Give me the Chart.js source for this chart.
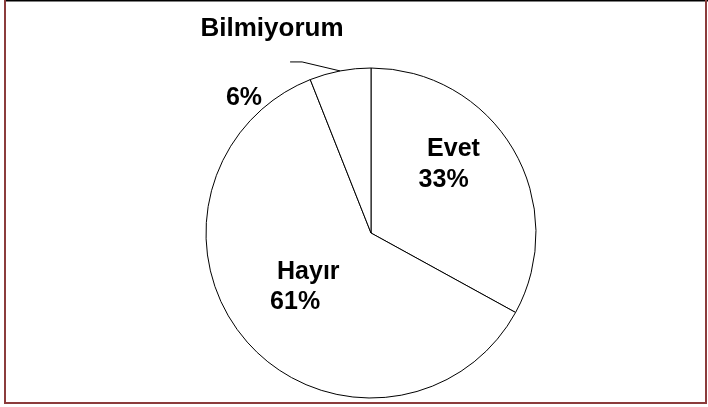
<!DOCTYPE html>
<html>
<head>
<meta charset="utf-8">
<script src="https://cdn.jsdelivr.net/npm/chart.js@4/dist/chart.umd.min.js"></script>
<style>
	html, body { margin: 0; padding: 0; background: #fff; }
	#wrap { width: 708px; height: 407px; }
</style>
</head>
<body>
<div id="wrap"><canvas id="pie"></canvas></div>
<script>
var categories = ["Evet", "Hayır", "Bilmiyorum"];
var values = [33, 61, 6];
var percentLabels = ["33%", "61%", "6%"];

// label anchors, relative to pie centre in units of radius
var labelSpots = [
	{ name: [0.50, -0.51], pct: [0.44, -0.32] },
	{ name: [-0.38, 0.24], pct: [-0.46, 0.42] },
	{ name: [-0.60, -1.24], pct: [-0.77, -0.82] }
];

var frame = {
	id: "frame",
	afterDraw: function (chart) {
		var c = chart.ctx;
		c.save();
		c.strokeStyle = "#000";
		c.lineWidth = 2;
		c.beginPath(); c.moveTo(5, 0.5); c.lineTo(708, 0.5); c.stroke();
		c.strokeStyle = "#8b3c3c";
		c.lineWidth = 2;
		c.beginPath();
		c.moveTo(5, 0); c.lineTo(5, 403); c.lineTo(706, 403); c.lineTo(706, 0);
		c.stroke();
		c.restore();
	}
};

var pieLabels = {
	id: "pieLabels",
	afterDatasetsDraw: function (chart) {
		var c = chart.ctx;
		var arcs = chart.getDatasetMeta(0).data;
		c.save();
		c.fillStyle = "#000";
		c.textAlign = "center";
		c.textBaseline = "middle";
		for (var i = 0; i < arcs.length; i++) {
			var a = arcs[i];
			var r = a.outerRadius;
			var s = labelSpots[i];
			c.font = (i == 2 ? "bold 26px" : "bold 25px") + " 'Liberation Sans', Arial, sans-serif";
			c.fillText(categories[i], a.x + s.name[0] * r, a.y + s.name[1] * r);
			c.font = "bold 25px 'Liberation Sans', Arial, sans-serif";
			c.fillText(percentLabels[i], a.x + s.pct[0] * r, a.y + s.pct[1] * r);
		}
		// leader line for the small slice
		var b = arcs[2];
		var mid = (b.startAngle + b.endAngle) / 2;
		var ex = b.x + Math.cos(mid) * b.outerRadius;
		var ey = b.y + Math.sin(mid) * b.outerRadius;
		c.strokeStyle = "#000";
		c.lineWidth = 1;
		c.beginPath();
		c.moveTo(ex, ey);
		c.lineTo(ex - 38, ey - 9);
		c.lineTo(ex - 50, ey - 9);
		c.stroke();
		c.restore();
	}
};

new Chart(document.getElementById("pie"), {
	type: "pie",
	data: {
		labels: categories,
		datasets: [{
			data: values,
			backgroundColor: "#ffffff",
			borderColor: "#000000",
			borderWidth: 1
		}]
	},
	options: {
		responsive: true,
		maintainAspectRatio: false,
		animation: false,
		radius: 165,
		layout: { padding: { left: 34, right: 0, top: 59, bottom: 0 } },
		plugins: {
			legend: { display: false },
			tooltip: { enabled: false }
		}
	},
	plugins: [frame, pieLabels]
});
</script>
</body>
</html>
